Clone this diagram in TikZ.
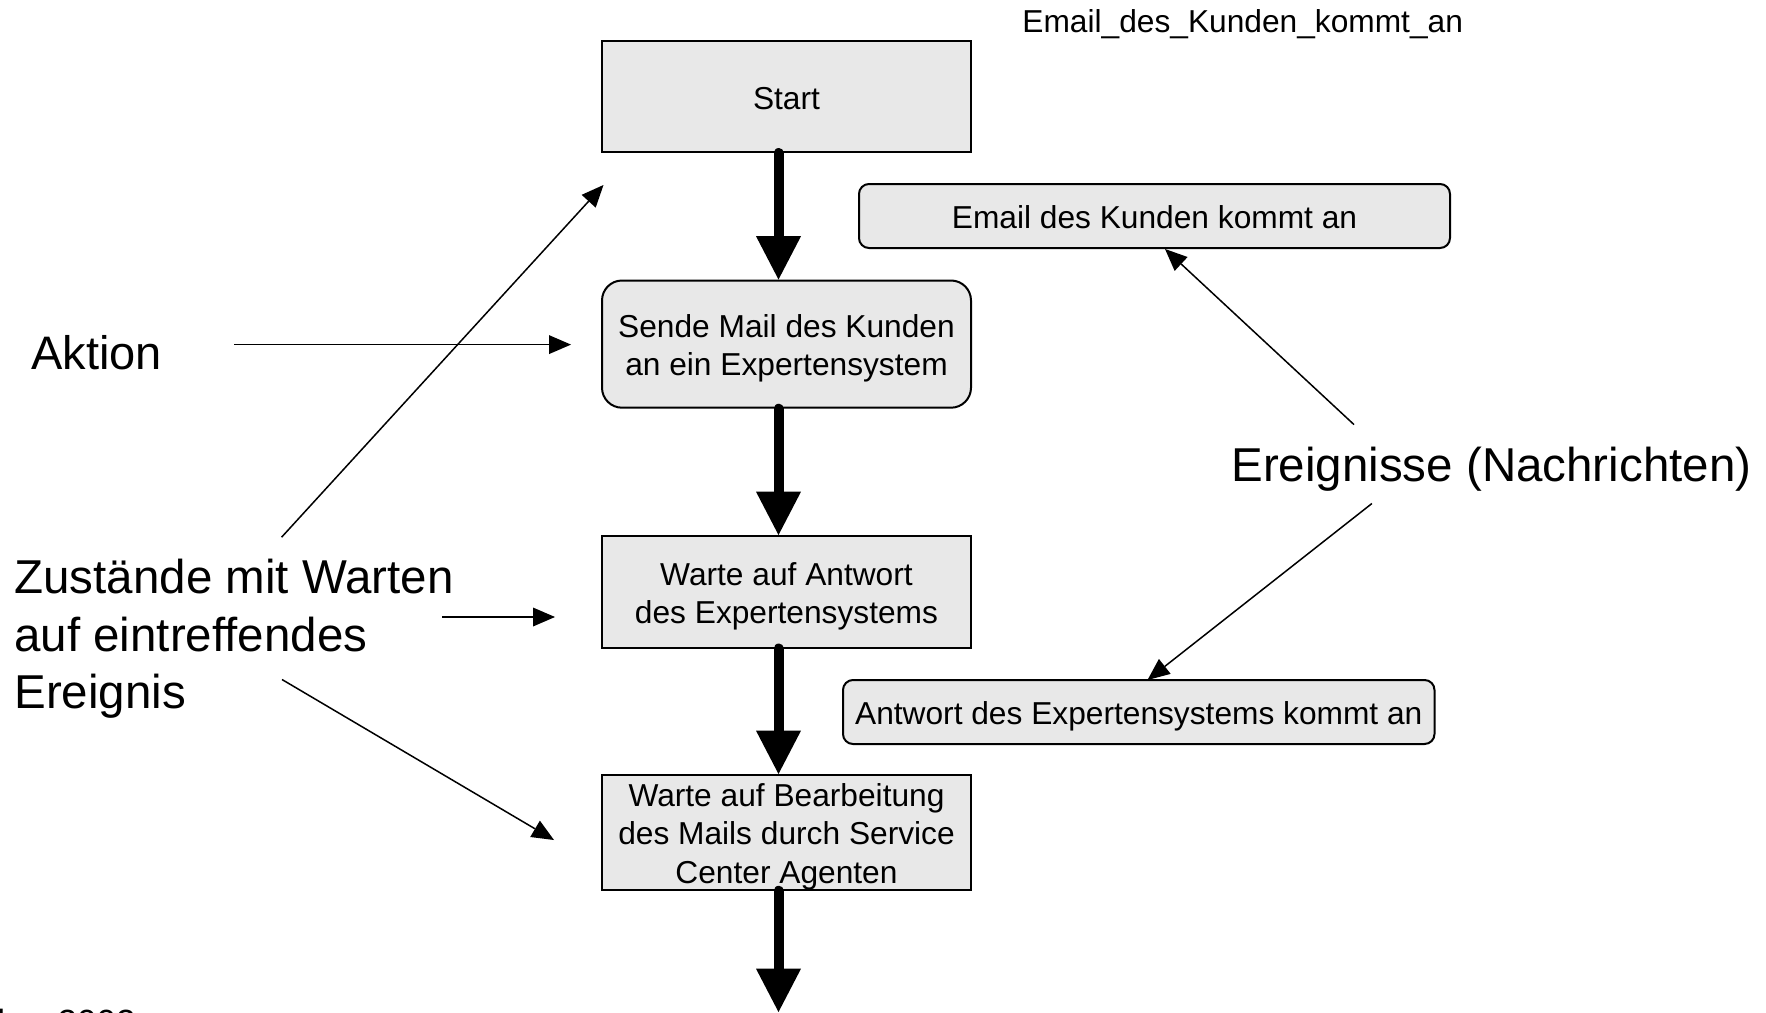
\documentclass[tikz,border=0pt]{standalone}
\usepackage{fontspec}
\setmainfont{Liberation Sans}
\usetikzlibrary{arrows.meta}
\definecolor{boxfill}{RGB}{232,232,232}
\newcommand\fsBox{\fontsize{15.85pt}{19.15pt}\selectfont}
\newcommand\fsBig{\fontsize{23.75pt}{28.6pt}\selectfont}
\newcommand\fsAkt{\fontsize{23.5pt}{28pt}\selectfont}
\newcommand\fsFoot{\fontsize{17.5pt}{21pt}\selectfont}
\newcommand\lowerstrut{\rule{0pt}{15.8pt}}
\begin{document}
\begin{tikzpicture}[x=0.5pt,y=-0.5pt,
  box/.style={draw, line width=1pt, fill=boxfill, inner sep=0pt, align=center, font=\fsBox, minimum width=184.5pt},
  evbox/.style={draw, line width=1pt, fill=boxfill, inner sep=0pt, align=center, font=\fsBox, rounded corners=5pt, minimum height=32pt, text height=12.75pt, text depth=0pt},
  flow/.style={line width=5pt, line cap=round, -{Triangle[length=21.65pt,width=22.5pt,line width=0pt]}},
  pointer/.style={line width=0.75pt, -{Triangle[length=11pt,width=9.5pt,line width=0pt]}},
  biglabel/.style={inner sep=0pt, font=\fsBig},
  smalllabel/.style={inner sep=0pt, font=\fsBox}]
\useasboundingbox (0,0) rectangle (1766,1012);

% flow boxes
\node[box, minimum height=55.75pt, text height=13.7pt, text depth=0pt] (start) at (786.5,96.25) {Start};
\node[box, minimum height=63.6pt, rounded corners=10pt] (sende) at (786.5,344.1) {\lowerstrut Sende Mail des Kunden\\ an ein Expertensystem};
\node[box, minimum height=55.75pt] (warteA) at (786.5,591.75) {\lowerstrut Warte auf Antwort\\des Expertensystems};
\node[box, minimum height=56.35pt] (warteB) at (786.5,832.35) {\lowerstrut Warte auf Bearbeitung\\des Mails durch Service\\Center Agenten};

% event boxes
\node[evbox, minimum width=295.5pt] (email) at (1154.5,216) {Email des Kunden kommt an};
\node[evbox, minimum width=295.75pt] (antwort) at (1138.75,712) {Antwort des Expertensystems kommt an};

% labels
\node[smalllabel, anchor=base west] (toplabel) at (1022,32.5) {Email\_des\_Kunden\_kommt\_an};
\node[inner sep=0pt, font=\fsAkt, anchor=base west] (aktion) at (31,369) {Aktion};
\node[biglabel, anchor=north west, align=left] (zustaende) at (14,559) {Zustände mit Warten\\auf eintreffendes\\Ereignis};
\node[biglabel, anchor=base west] (ereignisse) at (1231,481) {Ereignisse (Nachrichten)};
\node[inner sep=0pt, font=\fsFoot, anchor=base east] (footer) at (136,1034) {Oktober 2002};

% thick flow arrows
\coordinate (spine) at (778.5,0);
\coordinate (bottomend) at (778.5,1012);
\draw[flow] (start.south -| spine) -- (sende.north -| spine);
\draw[flow] (sende.south -| spine) -- (warteA.north -| spine);
\draw[flow] (warteA.south -| spine) -- (warteB.north -| spine);
\draw[flow] (warteB.south -| spine) -- (bottomend);

% pointer arrows
\coordinate (a1s) at (281.6,537.2);
\coordinate (a1e) at (603.5,185);
\coordinate (a2s) at (234,344.6);
\coordinate (a2e) at (571,344.6);
\coordinate (a3s) at (442,617);
\coordinate (a3e) at (555,617);
\coordinate (a4s) at (282,679.5);
\coordinate (a4e) at (554,840);
\coordinate (e1s) at (1354,424.6);
\coordinate (e1e) at (1165,249);
\coordinate (e2s) at (1371.9,503.5);
\coordinate (e2e) at (1147.5,680);
\draw[pointer] (a1s) -- (a1e);
\draw[pointer] (a2s) -- (a2e);
\draw[pointer] (a3s) -- (a3e);
\draw[pointer] (a4s) -- (a4e);
\draw[pointer] (e1s) -- (e1e);
\draw[pointer] (e2s) -- (e2e);
\end{tikzpicture}
\end{document}
